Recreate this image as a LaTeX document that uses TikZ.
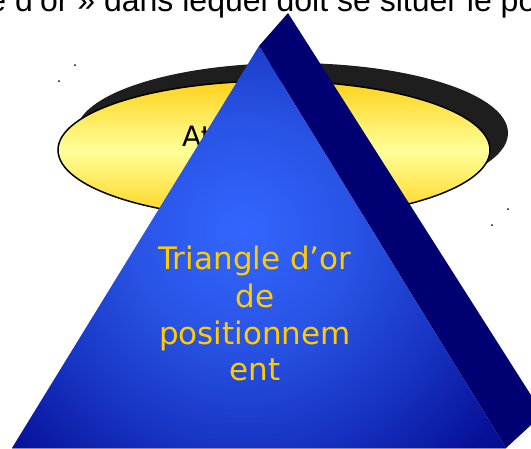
\documentclass[tikz,border=0pt]{standalone}
\usepackage{fontspec}
\setmainfont{DejaVu Sans}
\newfontfamily\libsans{Liberation Sans}
\definecolor{navyback}{RGB}{0,0,114}
\definecolor{shadowgrey}{RGB}{30,30,30}
\definecolor{goldedge}{RGB}{255,210,26}
\definecolor{goldmid}{RGB}{255,255,153}
\definecolor{trigold}{RGB}{255,204,0}
\definecolor{bottomline}{RGB}{140,140,190}
\pgfdeclareradialshading{triglow}{\pgfpoint{0bp}{0bp}}{rgb(0bp)=(0.2,0.4,1); rgb(7bp)=(0.16,0.33,0.9); rgb(14bp)=(0.09,0.2,0.76); rgb(20bp)=(0.03,0.07,0.6); rgb(25bp)=(0,0,0.5); rgb(50bp)=(0,0,0.5)}
\tikzset{
  titletext/.style={font=\libsans\fontsize{32}{38}\selectfont, anchor=base west, inner sep=0pt},
  tritext/.style={font=\fontsize{31}{37}\selectfont, text=trigold, anchor=base, inner sep=0pt},
  speck/.style={fill=black, inner sep=0pt, minimum size=2pt, circle},
}
\begin{document}
\begin{tikzpicture}[x=1pt,y=-1pt]
\path[use as bounding box, clip] (0,0) rectangle (531,448);
% title line, cut by the top edge
\node[titletext] (title) at (-125.5,11) {« triangle d’or » dans lequel doit se situer le positionnement};
% ellipse with its shadow
\fill[shadowgrey] (292,133) ellipse [x radius=216, y radius=70];
\draw[line width=1.5pt, top color=goldedge, bottom color=goldedge, middle color=goldmid] (274,150) ellipse [x radius=216, y radius=69];
\node[font=\fontsize{28}{34}\selectfont, anchor=base west, inner sep=0pt] (at) at (182,146) {At};
% specks
\node[speck] (s1) at (75,65) {};
\node[speck] (s2) at (59,81) {};
\node[speck] (s3) at (508,209) {};
\node[speck] (s4) at (492,225) {};
% pyramid
\coordinate (apex) at (259,46);
\coordinate (backapex) at (288,13);
\coordinate (backcorner) at (543,414);
\coordinate (bl) at (12,448);
\coordinate (br) at (506,448);
\fill[navyback] (apex) -- (backapex) -- (backcorner) -- (br) -- cycle;
\begin{scope}
  \clip (bl) -- (apex) -- (br) -- cycle;
  \shade[shading=triglow] (243,232) circle [radius=390];
\end{scope}
\draw[bottomline, line width=1pt] (bl) -- (br);
% pyramid text
\node[tritext] (t1) at (255,269) {Triangle d’or};
\node[tritext] (t2) at (255,307) {de};
\node[tritext] (t3) at (255,344) {positionnem};
\node[tritext] (t4) at (255,380) {ent};
\end{tikzpicture}
\end{document}
